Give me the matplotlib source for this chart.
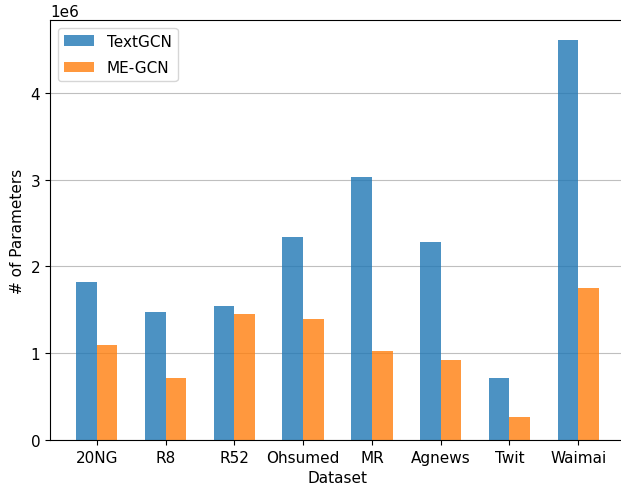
import numpy as np
import matplotlib
matplotlib.use("Agg")
import matplotlib.pyplot as plt

datasets = ["20NG", "R8", "R52", "Ohsumed", "MR", "Agnews", "Twit", "Waimai"]
textgcn = [1.82e6, 1.48e6, 1.54e6, 2.34e6, 3.03e6, 2.28e6, 0.72e6, 4.61e6]
megcn = [1.10e6, 0.72e6, 1.45e6, 1.39e6, 1.03e6, 0.92e6, 0.26e6, 1.75e6]


def plot_params():
    plt.rcParams["font.size"] = 11
    fig = plt.figure(figsize=(6.21, 4.85), dpi=100)
    W, H = 621.0, 485.0
    ax = fig.add_axes([50 / W, 44 / H, 575 / W, 420 / H])

    x = np.arange(len(datasets))
    width = 0.3
    ax.bar(x - width / 2, textgcn, width, label="TextGCN", alpha=0.8)
    ax.bar(x + width / 2, megcn, width, label="ME-GCN", alpha=0.8)

    ax.set_xticks(x)
    ax.set_xticklabels(datasets)
    ax.set_xlabel("Dataset")
    ax.set_ylabel("# of Parameters")
    ax.grid(axis="y", color="gray", alpha=0.5)
    ax.set_axisbelow(True)
    ax.spines["right"].set_visible(False)
    ax.legend(loc="upper left", fontsize=11, labelspacing=0.75)

    fig.savefig("out.png", dpi=100)


if __name__ == "__main__":
    plot_params()
